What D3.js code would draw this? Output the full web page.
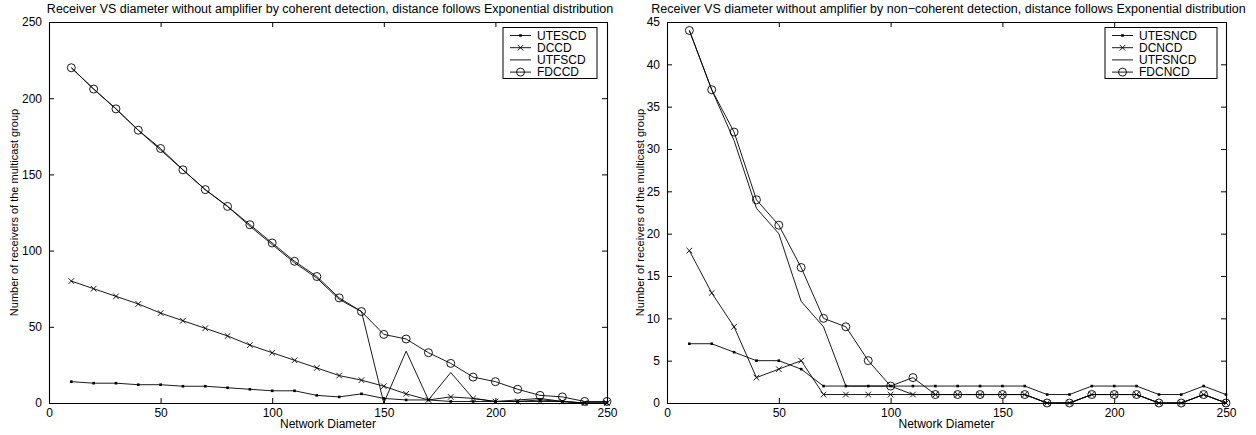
<!DOCTYPE html>
<html>
<head>
<meta charset="utf-8">
<script src="https://cdn.jsdelivr.net/npm/d3@7"></script>
<style>
  body { margin: 0; background: #fff; }
  svg { display: block; font-family: 'Liberation Sans', Arial, Helvetica, sans-serif; }
</style>
</head>
<body>
<svg id="chart" width="1256" height="435"></svg>
<script>
// network diameters (x axis of both panels)
const diameters = [10, 20, 30, 40, 50, 60, 70, 80, 90, 100, 110, 120, 130,
  140, 150, 160, 170, 180, 190, 200, 210, 220, 230, 240, 250];

// coherent detection panel
const utescd = [14, 13, 13, 12, 12, 11, 11, 10, 9, 8, 8, 5, 4, 6, 3, 2, 2, 1, 1, 1, 1, 2, 1, 0, 0];
const dccd = [80, 75, 70, 65, 59, 54, 49, 44, 38, 33, 28, 23, 18, 15, 11, 6, 2, 4, 3, 1, 1, 1, 1, 0, 0];
const utfscd = [220, 206, 193, 179, 166, 153, 140, 129, 116, 104, 92, 82, 68, 60, 0, 34, 2, 20, 3, 1, 2, 3, 1, 0, 0];
const fdccd = [220, 206, 193, 179, 167, 153, 140, 129, 117, 105, 93, 83, 69, 60, 45, 42, 33, 26, 17, 14, 9, 5, 4, 1, 1];

// non-coherent detection panel
const utesncd = [7, 7, 6, 5, 5, 4, 2, 2, 2, 2, 2, 2, 2, 2, 2, 2, 1, 1, 2, 2, 2, 1, 1, 2, 1];
const dcncd = [18, 13, 9, 3, 4, 5, 1, 1, 1, 1, 1, 1, 1, 1, 1, 1, 0, 0, 1, 1, 1, 0, 0, 1, 0];
const utfsncd = [44, 37, 31, 23, 20, 12, 9, 2, 2, 2, 1, 1, 1, 1, 1, 1, 0, 0, 1, 1, 1, 0, 0, 1, 0];
const fdcncd = [44, 37, 32, 24, 21, 16, 10, 9, 5, 2, 3, 1, 1, 1, 1, 1, 0, 0, 1, 1, 1, 0, 0, 1, 0];

// tick labels
const x_ticks = [0, 50, 100, 150, 200, 250];
const y_ticks_coh = [0, 50, 100, 150, 200, 250];
const y_ticks_ncoh = [0, 5, 10, 15, 20, 25, 30, 35, 40, 45];

const svg = d3.select('#chart');

/**
 * Draws a single marker of the given kind
 */
function draw_marker (g, kind, cx, cy) {
  if (kind === 'dot') {
    g.append('rect')
      .attr('x', cx - 1.3).attr('y', cy - 1.3)
      .attr('width', 2.6).attr('height', 2.6)
      .attr('fill', '#000');
  } else if (kind === 'x') {
    let s = 2.8;
    g.append('path')
      .attr('d', `M${cx - s},${cy - s}L${cx + s},${cy + s}M${cx - s},${cy + s}L${cx + s},${cy - s}`)
      .attr('stroke', '#000').attr('stroke-width', 0.9).attr('fill', 'none');
  } else if (kind === 'o') {
    g.append('circle')
      .attr('cx', cx).attr('cy', cy).attr('r', 4)
      .attr('stroke', '#000').attr('stroke-width', 0.9).attr('fill', 'none');
  }
}

/**
 * Plots one panel: box axes, series, legend, texts
 */
function plot_panel (opts) {
  let { left, right, top, bottom } = opts.box;

  let x = d3.scaleLinear().domain([0, 250]).range([left, right]);
  let y = d3.scaleLinear().domain([0, opts.ymax]).range([bottom, top]);

  let g = svg.append('g');

  // axes with inward ticks on all four sides
  g.append('g')
    .attr('transform', `translate(0, ${bottom})`)
    .call(d3.axisBottom(x).tickValues(x_ticks).tickSizeInner(-5).tickSizeOuter(0).tickPadding(5));
  g.append('g')
    .attr('transform', `translate(0, ${top})`)
    .call(d3.axisTop(x).tickValues(x_ticks).tickSizeInner(-5).tickSizeOuter(0).tickFormat(''));
  g.append('g')
    .attr('transform', `translate(${left}, 0)`)
    .call(d3.axisLeft(y).tickValues(opts.y_ticks).tickSizeInner(-5).tickSizeOuter(0).tickPadding(7));
  g.append('g')
    .attr('transform', `translate(${right}, 0)`)
    .call(d3.axisRight(y).tickValues(opts.y_ticks).tickSizeInner(-5).tickSizeOuter(0).tickFormat(''));

  g.selectAll('.domain').attr('stroke', '#000').attr('stroke-width', 1.1);
  g.selectAll('.tick line').attr('stroke', '#000');
  g.selectAll('.tick text').attr('fill', '#000').style('font-size', '12px');

  // series
  let line = d3.line()
    .x((d, i) => x(diameters[i]))
    .y((d) => y(d));

  opts.series.forEach((s) => {
    g.append('path')
      .datum(s.values)
      .attr('fill', 'none')
      .attr('stroke', '#000')
      .attr('stroke-width', 0.9)
      .attr('d', line);
    let mg = g.append('g');
    s.values.forEach((v, i) => draw_marker(mg, s.marker, x(diameters[i]), y(v)));
  });

  // titles
  g.append('text')
    .attr('x', (left + right) / 2 + 2)
    .attr('y', 13)
    .attr('text-anchor', 'middle')
    .style('font-size', '12.5px')
    .text(opts.title);

  g.append('text')
    .attr('x', (left + right) / 2)
    .attr('y', 428)
    .attr('text-anchor', 'middle')
    .style('font-size', '12px')
    .text('Network Diameter');

  g.append('text')
    .attr('transform', `translate(${opts.ylabel_x}, ${(top + bottom) / 2}) rotate(-90)`)
    .attr('text-anchor', 'middle')
    .attr('dy', '0.35em')
    .style('font-size', '11px')
    .text('Number of receivers of the multicast group');

  // handmade legend
  let lg = opts.legend;
  g.append('rect')
    .attr('x', lg.x).attr('y', lg.y)
    .attr('width', lg.w).attr('height', 51)
    .attr('fill', '#fff').attr('stroke', '#000').attr('stroke-width', 1);

  opts.series.forEach((s, i) => {
    let cy = lg.y + 8 + 12.2 * i;
    g.append('line')
      .attr('x1', lg.x + 7).attr('x2', lg.x + 28)
      .attr('y1', cy).attr('y2', cy)
      .attr('stroke', '#000').attr('stroke-width', 0.9);
    draw_marker(g, s.marker, lg.x + 17.5, cy);
    g.append('text')
      .attr('x', lg.x + 34)
      .attr('y', cy)
      .attr('dy', '0.35em')
      .style('font-size', '12px')
      .text(s.name);
  });
}

plot_panel({
  box: { left: 49, right: 607, top: 22, bottom: 403 },
  ymax: 250,
  y_ticks: y_ticks_coh,
  ylabel_x: 14,
  title: 'Receiver VS diameter without amplifier by coherent detection, distance follows Exponential distribution',
  legend: { x: 503, y: 27.5, w: 94 },
  series: [
    { name: 'UTESCD', values: utescd, marker: 'dot' },
    { name: 'DCCD', values: dccd, marker: 'x' },
    { name: 'UTFSCD', values: utfscd, marker: 'none' },
    { name: 'FDCCD', values: fdccd, marker: 'o' }
  ]
});

plot_panel({
  box: { left: 667, right: 1226, top: 22, bottom: 403 },
  ymax: 45,
  y_ticks: y_ticks_ncoh,
  ylabel_x: 640,
  title: 'Receiver VS diameter without amplifier by non\u2212coherent detection, distance follows Exponential distribution',
  legend: { x: 1105, y: 27.5, w: 112 },
  series: [
    { name: 'UTESNCD', values: utesncd, marker: 'dot' },
    { name: 'DCNCD', values: dcncd, marker: 'x' },
    { name: 'UTFSNCD', values: utfsncd, marker: 'none' },
    { name: 'FDCNCD', values: fdcncd, marker: 'o' }
  ]
});
</script>
</body>
</html>
